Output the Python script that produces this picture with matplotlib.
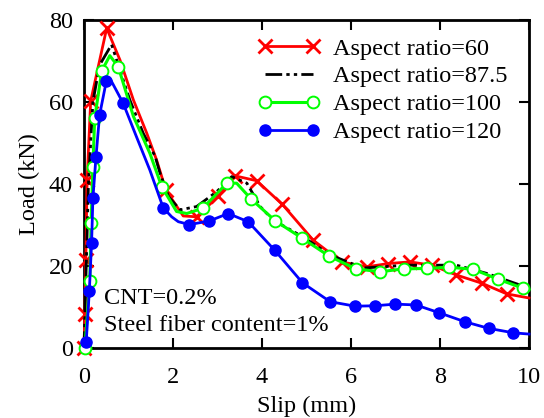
import matplotlib
matplotlib.use("Agg")
import matplotlib.pyplot as plt

plt.rcParams["font.family"] = ["Liberation Serif", "DejaVu Serif"]

# Load-slip curves, pull-out tests (slip in mm, load in kN)
# Aspect ratio = 60
slip_60 = [0.0, 0.02, 0.04, 0.07, 0.15, 0.51, 0.81, 1.11, 1.41, 1.63, 1.84, 2.23, 2.53,
           3.02, 3.39, 3.88, 4.46, 5.15, 5.79, 6.35, 6.84, 7.33, 7.81, 8.37, 8.94, 9.5, 10.0]
load_60 = [0.0, 8.3, 21.5, 41.0, 60.2, 78.0, 70.2, 60.5, 52.4, 45.9, 38.5, 32.2, 32.0,
           37.0, 42.0, 40.8, 35.0, 26.3, 21.0, 19.8, 20.6, 21.0, 20.2, 17.8, 15.8, 13.2, 12.2]
marks_60 = [0, 1, 2, 3, 4, 5, 10, 12, 13, 14, 15, 16, 17, 18, 19, 20, 21, 22, 23, 24, 25]

# Aspect ratio = 87.5
slip_875 = [0.0, 0.05, 0.1, 0.2, 0.35, 0.62, 1.03, 1.33, 1.6, 1.71, 1.9, 2.16, 2.53, 2.98,
            3.32, 3.66, 3.96, 4.25, 4.92, 5.53, 6.27, 7.25, 8.37, 9.05, 10.0]
load_875 = [0.0, 20.0, 40.0, 60.0, 69.0, 74.0, 60.5, 52.4, 46.7, 42.6, 36.9, 33.7, 34.5, 38.1,
            41.8, 40.2, 34.5, 31.2, 27.1, 22.7, 19.5, 20.2, 20.2, 18.2, 14.6]

# Aspect ratio = 100
slip_100 = [0.02, 0.13, 0.16, 0.2, 0.24, 0.4, 0.58, 0.77, 1.11, 1.48, 1.75, 2.08, 2.31, 2.67,
            3.21, 3.43, 3.75, 4.3, 4.9, 5.51, 6.11, 6.66, 7.18, 7.7, 8.21, 8.75, 9.3, 9.86, 10.0]
load_100 = [0.0, 16.4, 30.6, 44.2, 56.0, 67.6, 71.3, 68.6, 56.5, 47.5, 39.3, 33.3, 32.8, 34.1,
            40.2, 40.2, 36.4, 31.0, 26.8, 22.4, 19.3, 18.6, 19.3, 19.4, 19.7, 19.2, 16.8, 14.6, 14.2]
marks_100 = [0, 1, 2, 3, 4, 5, 7, 10, 13, 14, 16, 17, 18, 19, 20, 21, 22, 23, 24, 25, 26, 27]

# Aspect ratio = 120
slip_120 = [0.05, 0.12, 0.17, 0.2, 0.27, 0.35, 0.5, 0.6, 0.88, 1.18, 1.48, 1.78, 1.97, 2.12,
            2.37, 2.82, 3.24, 3.69, 4.29, 4.91, 5.53, 6.09, 6.54, 6.99, 7.46, 7.98, 8.56, 9.09,
            9.65, 10.0]
load_120 = [1.5, 14.0, 25.5, 36.5, 46.7, 56.8, 65.0, 65.4, 59.7, 51.5, 43.4, 34.2, 32.0, 30.8,
            30.1, 31.0, 32.8, 30.8, 23.8, 15.9, 11.3, 10.2, 10.3, 10.7, 10.5, 8.6, 6.4, 4.8,
            3.7, 3.4]
marks_120 = [0, 1, 2, 3, 4, 5, 6, 8, 11, 14, 15, 16, 17, 18, 19, 20, 21, 22, 23, 24, 25, 26,
             27, 28]

labels = ["Aspect ratio=60", "Aspect ratio=87.5", "Aspect ratio=100", "Aspect ratio=120"]
x_ticks = [0, 2, 4, 6, 8, 10]
y_ticks = [0, 20, 40, 60, 80]

FS = 17.5

fig = plt.figure(figsize=(5.44, 4.18), dpi=100)
ax = fig.add_axes([84 / 544, 1 - 348 / 418, 445 / 544, 328 / 418])

ax.plot(slip_60, load_60, color="#ff0000", lw=2, marker="x", ms=10, mew=2,
        markevery=marks_60, clip_on=False, zorder=3, label=labels[0])
ax.plot(slip_875, load_875, color="black", lw=2, dashes=(6, 1.5, 1.2, 1.5, 1.2, 1.5),
        clip_on=False, zorder=3, label=labels[1])
ax.plot(slip_100, load_100, color="#00ff00", lw=2.2, marker="o", ms=8.5, mfc="white",
        mec="#00ff00", mew=1.4, markevery=marks_100, clip_on=False, zorder=3, label=labels[2])
ax.plot(slip_120, load_120, color="#0000ff", lw=2, marker="o", ms=8, mfc="#0000ff",
        mec="#0000ff", markevery=marks_120, clip_on=False, zorder=3, label=labels[3])

ax.set_xlim(0, 10)
ax.set_ylim(0, 80)
ax.set_xticks(x_ticks)
ax.set_yticks(y_ticks)
ax.tick_params(direction="in", length=7, width=1.5, labelsize=FS, top=True, right=True)
ax.tick_params(axis="y", pad=8)
ax.tick_params(axis="x", pad=13.5)
for sp in ax.spines.values():
    sp.set_linewidth(2)

ax.set_xlabel("Slip (mm)", fontsize=FS, labelpad=6)
ax.set_ylabel("Load (kN)", fontsize=FS, labelpad=6)

ax.text(0.045, 0.152, "CNT=0.2%", transform=ax.transAxes, fontsize=FS, va="center")
ax.text(0.045, 0.068, "Steel fiber content=1%", transform=ax.transAxes, fontsize=FS,
        va="center")

ax.legend(loc="upper left", bbox_to_anchor=(0.369, 0.976), borderaxespad=0, frameon=False,
          fontsize=FS, handlelength=2.55, handletextpad=0.53, numpoints=2, labelspacing=0.24)

fig.savefig("out.png", dpi=100)
